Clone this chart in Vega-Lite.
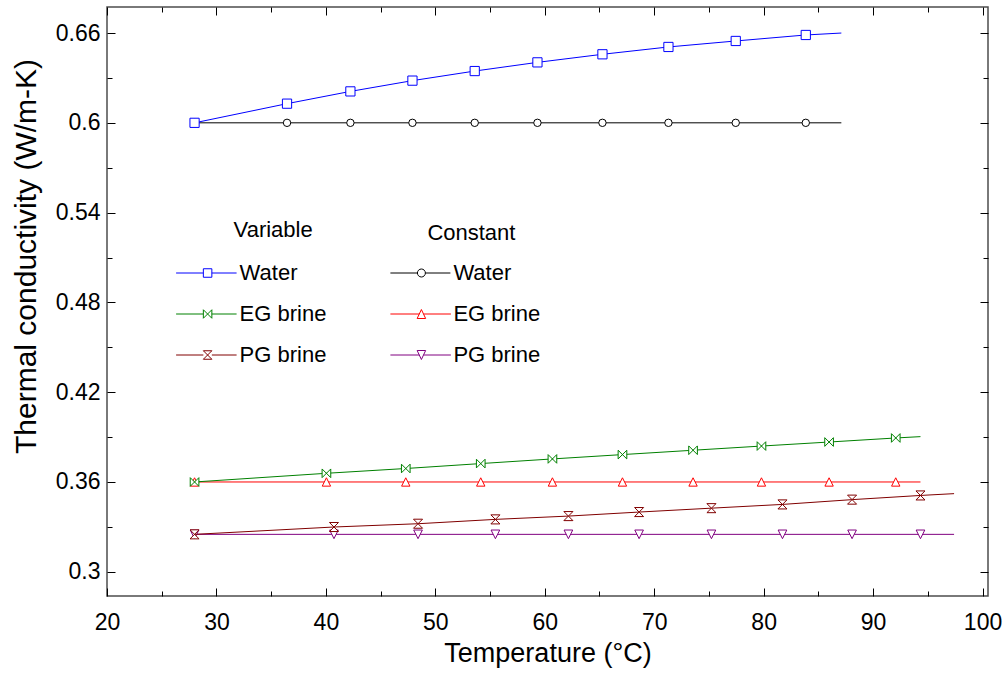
{
  "$schema": "https://vega.github.io/schema/vega-lite/v6.json",
  "width": 881,
  "height": 589,
  "autosize": "none",
  "padding": {"left": 107, "top": 7, "right": 20, "bottom": 85},
  "background": "white",
  "config": {
    "font": "Liberation Sans",
    "view": {"stroke": "#4d4d4d", "strokeWidth": 1.5},
    "axis": {"grid": false, "domain": false, "labelFont": "Liberation Sans", "titleFont": "Liberation Sans", "tickColor": "#000000", "tickWidth": 1, "labelColor": "#000000", "titleColor": "#000000", "titleFontWeight": "normal", "labelFlush": false, "labelOverlap": false},
    "legend": {"labelFont": "Liberation Sans", "titleFont": "Liberation Sans", "labelFontSize": 22, "titleFontSize": 22, "titleFontWeight": "normal", "labelColor": "#000000", "titleColor": "#000000", "padding": 0, "symbolOffset": 0, "rowPadding": 19, "titlePadding": 20, "labelOffset": 21, "symbolSize": 100, "symbolStrokeWidth": 1, "symbolOpacity": 1}
  },
  "data": {"values": [
    {"type": "Variable", "fluid": "Water", "T": 28.0, "k": 0.6, "marker": true},
    {"type": "Variable", "fluid": "Water", "T": 36.45, "k": 0.6128, "marker": true},
    {"type": "Variable", "fluid": "Water", "T": 42.24, "k": 0.621, "marker": true},
    {"type": "Variable", "fluid": "Water", "T": 47.91, "k": 0.6282, "marker": true},
    {"type": "Variable", "fluid": "Water", "T": 53.6, "k": 0.6346, "marker": true},
    {"type": "Variable", "fluid": "Water", "T": 59.33, "k": 0.6404, "marker": true},
    {"type": "Variable", "fluid": "Water", "T": 65.27, "k": 0.6458, "marker": true},
    {"type": "Variable", "fluid": "Water", "T": 71.3, "k": 0.6507, "marker": true},
    {"type": "Variable", "fluid": "Water", "T": 77.45, "k": 0.6547, "marker": true},
    {"type": "Variable", "fluid": "Water", "T": 83.85, "k": 0.6587, "marker": true},
    {"type": "Variable", "fluid": "Water", "T": 87.1, "k": 0.66, "marker": false},
    {"type": "Constant", "fluid": "Water", "T": 28.0, "k": 0.6, "marker": true},
    {"type": "Constant", "fluid": "Water", "T": 36.45, "k": 0.6, "marker": true},
    {"type": "Constant", "fluid": "Water", "T": 42.24, "k": 0.6, "marker": true},
    {"type": "Constant", "fluid": "Water", "T": 47.91, "k": 0.6, "marker": true},
    {"type": "Constant", "fluid": "Water", "T": 53.6, "k": 0.6, "marker": true},
    {"type": "Constant", "fluid": "Water", "T": 59.33, "k": 0.6, "marker": true},
    {"type": "Constant", "fluid": "Water", "T": 65.27, "k": 0.6, "marker": true},
    {"type": "Constant", "fluid": "Water", "T": 71.3, "k": 0.6, "marker": true},
    {"type": "Constant", "fluid": "Water", "T": 77.45, "k": 0.6, "marker": true},
    {"type": "Constant", "fluid": "Water", "T": 83.85, "k": 0.6, "marker": true},
    {"type": "Constant", "fluid": "Water", "T": 87.1, "k": 0.6, "marker": false},
    {"type": "Variable", "fluid": "EG brine", "T": 28.0, "k": 0.36, "marker": true},
    {"type": "Variable", "fluid": "EG brine", "T": 40.05, "k": 0.3658, "marker": true},
    {"type": "Variable", "fluid": "EG brine", "T": 47.3, "k": 0.369, "marker": true},
    {"type": "Variable", "fluid": "EG brine", "T": 54.15, "k": 0.3723, "marker": true},
    {"type": "Variable", "fluid": "EG brine", "T": 60.7, "k": 0.3754, "marker": true},
    {"type": "Variable", "fluid": "EG brine", "T": 67.1, "k": 0.3783, "marker": true},
    {"type": "Variable", "fluid": "EG brine", "T": 73.55, "k": 0.3812, "marker": true},
    {"type": "Variable", "fluid": "EG brine", "T": 79.8, "k": 0.384, "marker": true},
    {"type": "Variable", "fluid": "EG brine", "T": 85.98, "k": 0.3867, "marker": true},
    {"type": "Variable", "fluid": "EG brine", "T": 92.07, "k": 0.3894, "marker": true},
    {"type": "Variable", "fluid": "EG brine", "T": 94.33, "k": 0.3903, "marker": false},
    {"type": "Constant", "fluid": "EG brine", "T": 28.0, "k": 0.36, "marker": true},
    {"type": "Constant", "fluid": "EG brine", "T": 40.05, "k": 0.36, "marker": true},
    {"type": "Constant", "fluid": "EG brine", "T": 47.3, "k": 0.36, "marker": true},
    {"type": "Constant", "fluid": "EG brine", "T": 54.15, "k": 0.36, "marker": true},
    {"type": "Constant", "fluid": "EG brine", "T": 60.7, "k": 0.36, "marker": true},
    {"type": "Constant", "fluid": "EG brine", "T": 67.1, "k": 0.36, "marker": true},
    {"type": "Constant", "fluid": "EG brine", "T": 73.55, "k": 0.36, "marker": true},
    {"type": "Constant", "fluid": "EG brine", "T": 79.8, "k": 0.36, "marker": true},
    {"type": "Constant", "fluid": "EG brine", "T": 85.98, "k": 0.36, "marker": true},
    {"type": "Constant", "fluid": "EG brine", "T": 92.07, "k": 0.36, "marker": true},
    {"type": "Constant", "fluid": "EG brine", "T": 94.33, "k": 0.36, "marker": false},
    {"type": "Variable", "fluid": "PG brine", "T": 28.0, "k": 0.325, "marker": true},
    {"type": "Variable", "fluid": "PG brine", "T": 40.74, "k": 0.3299, "marker": true},
    {"type": "Variable", "fluid": "PG brine", "T": 48.42, "k": 0.3321, "marker": true},
    {"type": "Variable", "fluid": "PG brine", "T": 55.49, "k": 0.335, "marker": true},
    {"type": "Variable", "fluid": "PG brine", "T": 62.16, "k": 0.3372, "marker": true},
    {"type": "Variable", "fluid": "PG brine", "T": 68.62, "k": 0.3399, "marker": true},
    {"type": "Variable", "fluid": "PG brine", "T": 75.23, "k": 0.3425, "marker": true},
    {"type": "Variable", "fluid": "PG brine", "T": 81.72, "k": 0.345, "marker": true},
    {"type": "Variable", "fluid": "PG brine", "T": 88.08, "k": 0.3482, "marker": true},
    {"type": "Variable", "fluid": "PG brine", "T": 94.33, "k": 0.351, "marker": true},
    {"type": "Variable", "fluid": "PG brine", "T": 97.4, "k": 0.3522, "marker": false},
    {"type": "Constant", "fluid": "PG brine", "T": 28.0, "k": 0.325, "marker": true},
    {"type": "Constant", "fluid": "PG brine", "T": 40.74, "k": 0.325, "marker": true},
    {"type": "Constant", "fluid": "PG brine", "T": 48.42, "k": 0.325, "marker": true},
    {"type": "Constant", "fluid": "PG brine", "T": 55.49, "k": 0.325, "marker": true},
    {"type": "Constant", "fluid": "PG brine", "T": 62.16, "k": 0.325, "marker": true},
    {"type": "Constant", "fluid": "PG brine", "T": 68.62, "k": 0.325, "marker": true},
    {"type": "Constant", "fluid": "PG brine", "T": 75.23, "k": 0.325, "marker": true},
    {"type": "Constant", "fluid": "PG brine", "T": 81.72, "k": 0.325, "marker": true},
    {"type": "Constant", "fluid": "PG brine", "T": 88.08, "k": 0.325, "marker": true},
    {"type": "Constant", "fluid": "PG brine", "T": 94.33, "k": 0.325, "marker": true},
    {"type": "Constant", "fluid": "PG brine", "T": 97.4, "k": 0.325, "marker": false}
  ]},
  "layer": [
    {
      "transform": [{"filter": "datum.type === 'Constant'"}],
      "encoding": {
        "x": {"field": "T", "type": "quantitative", "scale": {"domain": [20, 100.5], "nice": false, "zero": false}, "axis": null},
        "y": {"field": "k", "type": "quantitative", "scale": {"domain": [0.2838, 0.6774], "nice": false, "zero": false}, "axis": null},
        "stroke": {"field": "fluid", "type": "nominal", "scale": {"domain": ["Water", "EG brine", "PG brine"], "range": ["#000000", "#ff0000", "#800080"]},
          "legend": {"title": "Constant", "orient": "none", "legendX": 303.4, "legendY": 213, "direction": "vertical",
            "encode": {
              "title": {"update": {"dx": {"value": 17}, "dy": {"value": 3}}},
              "symbols": {"update": {
                "fill": {"value": "#ffffff"},
                "fillOpacity": {"value": 1},
                "opacity": {"value": 1},
                "strokeWidth": {"value": 1},
                "size": {"value": 100}
              }}
            }}
        }
      },
      "layer": [
        {"mark": {"type": "line", "strokeWidth": 1}},
        {"transform": [{"filter": "datum.marker && datum.fluid === 'Water'"}],
         "mark": {"type": "point", "shape": "circle", "filled": false, "fill": "#ffffff", "fillOpacity": 1, "opacity": 1, "strokeWidth": 1, "size": 55}},
        {"transform": [{"filter": "datum.marker && datum.fluid === 'EG brine'"}],
         "mark": {"type": "point", "shape": "M0,-1L1,1L-1,1Z", "filled": false, "fill": "#ffffff", "fillOpacity": 1, "opacity": 1, "strokeWidth": 1, "size": 70}},
        {"transform": [{"filter": "datum.marker && datum.fluid === 'PG brine'"}],
         "mark": {"type": "point", "shape": "M0,1L1,-1L-1,-1Z", "filled": false, "fill": "#ffffff", "fillOpacity": 1, "opacity": 1, "strokeWidth": 1, "size": 75}},
        {"transform": [{"filter": "false"}],
         "mark": {"type": "point", "filled": false, "fill": "#ffffff", "fillOpacity": 1, "opacity": 1, "strokeWidth": 1, "size": 100},
         "encoding": {"shape": {"field": "fluid", "type": "nominal", "scale": {"domain": ["Water", "EG brine", "PG brine"], "range": [
           "M-6.2,0H-0.8M0.8,0H5.8M0.8,0L0.739,0.306L0.566,0.566L0.306,0.739L0,0.8L-0.306,0.739L-0.566,0.566L-0.739,0.306L-0.8,0L-0.739,-0.306L-0.566,-0.566L-0.306,-0.739L0,-0.8L0.306,-0.739L0.566,-0.566L0.739,-0.306Z",
           "M-6.2,0H-0.43M0.43,0H5.9M0,-0.9L0.85,0.9L-0.85,0.9Z",
           "M-6.2,0H-0.43M0.43,0H5.9M0,0.9L0.85,-0.9L-0.85,-0.9Z"]}, "legend": null}}}
      ]
    },
    {
      "transform": [{"filter": "datum.type === 'Variable'"}],
      "encoding": {
        "x": {"field": "T", "type": "quantitative", "scale": {"domain": [20, 100.5], "nice": false, "zero": false}, "axis": null},
        "y": {"field": "k", "type": "quantitative", "scale": {"domain": [0.2838, 0.6774], "nice": false, "zero": false}, "axis": null},
        "stroke": {"field": "fluid", "type": "nominal", "scale": {"domain": ["Water", "EG brine", "PG brine"], "range": ["#0000ff", "#008000", "#800000"]},
          "legend": {"title": "Variable", "orient": "none", "legendX": 89.6, "legendY": 213, "direction": "vertical",
            "encode": {
              "title": {"update": {"dx": {"value": 37}}},
              "symbols": {"update": {
                "fill": {"value": "#ffffff"},
                "fillOpacity": {"value": 1},
                "opacity": {"value": 1},
                "strokeWidth": {"value": 1},
                "size": {"value": 100}
              }}
            }}
        }
      },
      "layer": [
        {"mark": {"type": "line", "strokeWidth": 1}},
        {"transform": [{"filter": "datum.marker && datum.fluid === 'Water'"}],
         "mark": {"type": "point", "shape": "square", "filled": false, "fill": "#ffffff", "fillOpacity": 1, "opacity": 1, "strokeWidth": 1, "size": 85}},
        {"transform": [{"filter": "datum.marker && datum.fluid === 'EG brine'"}],
         "mark": {"type": "point", "shape": "M-1,-1L1,1L1,-1L-1,1Z", "filled": false, "fill": "#ffffff", "fillOpacity": 1, "opacity": 1, "strokeWidth": 1, "size": 75}},
        {"transform": [{"filter": "datum.marker && datum.fluid === 'PG brine'"}],
         "mark": {"type": "point", "shape": "M-1,-1L1,-1L-1,1L1,1Z", "filled": false, "fill": "#ffffff", "fillOpacity": 1, "opacity": 1, "strokeWidth": 1, "size": 82}},
        {"transform": [{"filter": "false"}],
         "mark": {"type": "point", "filled": false, "fill": "#ffffff", "fillOpacity": 1, "opacity": 1, "strokeWidth": 1, "size": 100},
         "encoding": {"shape": {"field": "fluid", "type": "nominal", "scale": {"domain": ["Water", "EG brine", "PG brine"], "range": [
           "M-6.3,0H-0.85M0.85,0H5.8M-0.85,-0.85H0.85V0.85H-0.85Z",
           "M-6.3,0H-0.85M0.85,0H5.8M-0.85,-0.85L0.85,0.85L0.85,-0.85L-0.85,0.85Z",
           "M-6.3,0H-0.85M0.85,0H5.8M-0.85,-0.85L0.85,-0.85L-0.85,0.85L0.85,0.85Z"]}, "legend": null}}}
      ]
    },
    {
      "mark": {"type": "point", "opacity": 0},
      "encoding": {
        "x": {"field": "T", "type": "quantitative", "axis": {"orient": "bottom", "values": [20, 30, 40, 50, 60, 70, 80, 90, 100], "ticks": false, "tickSize": 0, "labelFontSize": 23, "labelPadding": 15, "title": "Temperature (°C)", "titleFontSize": 27, "titleY": 65, "titleBaseline": "alphabetic"}},
        "y": {"field": "k", "type": "quantitative", "axis": {"orient": "left", "values": [0.3, 0.36, 0.42, 0.48, 0.54, 0.6, 0.66], "format": ".2~f", "ticks": false, "tickSize": 0, "labelFontSize": 23, "labelPadding": 7, "title": "Thermal conductivity (W/m-K)", "titleFontSize": 30, "titleX": -72, "titleY": 249, "titleBaseline": "alphabetic"}}
      }
    },
    {
      "mark": {"type": "point", "opacity": 0},
      "encoding": {
        "x": {"field": "T", "type": "quantitative", "axis": {"orient": "bottom", "values": [20, 30, 40, 50, 60, 70, 80, 90, 100], "labels": false, "tickSize": -8, "title": null}},
        "y": {"field": "k", "type": "quantitative", "axis": {"orient": "left", "values": [0.3, 0.36, 0.42, 0.48, 0.54, 0.6, 0.66], "labels": false, "tickSize": -8, "title": null}}
      }
    },
    {
      "mark": {"type": "point", "opacity": 0},
      "encoding": {
        "x": {"field": "T", "type": "quantitative", "axis": {"orient": "bottom", "values": [25, 35, 45, 55, 65, 75, 85, 95], "labels": false, "tickSize": -5, "title": null}},
        "y": {"field": "k", "type": "quantitative", "axis": {"orient": "left", "values": [0.33, 0.39, 0.45, 0.51, 0.57, 0.63], "labels": false, "tickSize": -5, "title": null}}
      }
    },
    {
      "mark": {"type": "point", "opacity": 0},
      "encoding": {
        "x": {"field": "T", "type": "quantitative", "axis": {"orient": "top", "values": [20, 30, 40, 50, 60, 70, 80, 90, 100], "labels": false, "tickSize": -8, "title": null}},
        "y": {"field": "k", "type": "quantitative", "axis": {"orient": "right", "values": [0.3, 0.36, 0.42, 0.48, 0.54, 0.6, 0.66], "labels": false, "tickSize": -8, "title": null}}
      }
    },
    {
      "mark": {"type": "point", "opacity": 0},
      "encoding": {
        "x": {"field": "T", "type": "quantitative", "axis": {"orient": "top", "values": [25, 35, 45, 55, 65, 75, 85, 95], "labels": false, "tickSize": -5, "title": null}},
        "y": {"field": "k", "type": "quantitative", "axis": {"orient": "right", "values": [0.33, 0.39, 0.45, 0.51, 0.57, 0.63], "labels": false, "tickSize": -5, "title": null}}
      }
    }
  ],
  "resolve": {"scale": {"stroke": "independent", "shape": "independent"}, "axis": {"x": "independent", "y": "independent"}}
}
